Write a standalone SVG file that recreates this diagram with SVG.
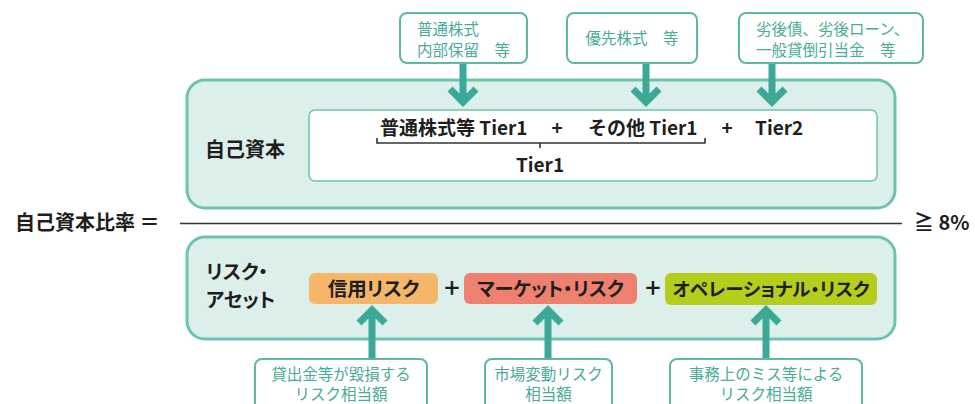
<svg xmlns="http://www.w3.org/2000/svg" width="975" height="404" viewBox="0 0 975 404">
<style>
.panel{fill:#ddefeb;stroke:#6cc3b1;stroke-width:3}
.inner{fill:#ffffff;stroke:#6cc3b1;stroke-width:1.5}
.lbl{fill:#ffffff;stroke:#5db8a5;stroke-width:2}
.lt{font-family:"Noto Sans CJK JP","Noto Sans",sans-serif;font-size:15.5px;fill:#4aab96}
.bt{font-family:"Noto Sans CJK JP","Noto Sans",sans-serif;font-weight:bold;fill:#1e1e1e}
.pt{font-feature-settings:"palt"}
.arr{fill:none;stroke:#3aa997;stroke-width:7;stroke-linejoin:miter;stroke-linecap:butt}
.brk{fill:none;stroke:#333333;stroke-width:1.6}
.plus{font-family:"Noto Sans CJK JP","Noto Sans",sans-serif;font-size:27px;fill:#1e1e1e;font-weight:500}
</style>
<rect width="975" height="404" fill="#ffffff"/>

<g id="capital">
  <rect class="panel" x="187" y="80" width="708" height="128" rx="18"/>
  <text class="bt" x="205" y="157" font-size="20">自己資本</text>
  <rect class="inner" x="309" y="110" width="568" height="71" rx="6"/>
  <text class="bt" x="380" y="135" font-size="19">普通株式等 Tier1</text>
  <text class="bt" x="557" y="135" font-size="19" text-anchor="middle">+</text>
  <text class="bt" x="588" y="135" font-size="19">その他 Tier1</text>
  <text class="bt" x="727" y="135" font-size="19" text-anchor="middle">+</text>
  <text class="bt" x="755" y="135" font-size="19">Tier2</text>
  <path class="brk" d="M377,138 V143 H705 V138 M540,143 V148"/>
  <text class="bt" x="540" y="172" font-size="19" text-anchor="middle">Tier1</text>
</g>

<g id="ratio">
  <text class="bt" x="15" y="230" font-size="20">自己資本比率 ＝</text>
  <line x1="180" y1="223.5" x2="902" y2="223.5" stroke="#333333" stroke-width="1.6"/>
  <text class="bt" x="914" y="230" font-size="20">≧ 8%</text>
</g>

<g id="risk">
  <rect class="panel" x="187" y="237" width="708" height="102" rx="18"/>
  <text class="bt pt" x="206" y="279" font-size="19.5">リスク・</text>
  <text class="bt pt" x="206" y="307" font-size="19.5">アセット</text>
</g>

<g id="credit">
  <rect x="309" y="273" width="129" height="31" rx="6" fill="#f6b66a"/>
  <text class="bt pt" x="373.5" y="295.5" font-size="19.5" text-anchor="middle">信用リスク</text>
</g>
<text class="plus" x="452" y="298" text-anchor="middle">+</text>
<g id="market">
  <rect x="464" y="273" width="173" height="31" rx="6" fill="#ee8070"/>
  <text class="bt pt" x="550.5" y="295.5" font-size="19" text-anchor="middle">マーケット・リスク</text>
</g>
<text class="plus" x="653" y="298" text-anchor="middle">+</text>
<g id="operational">
  <rect x="665" y="273" width="212" height="32" rx="6" fill="#b6cd1c"/>
  <text class="bt pt" x="771" y="295.5" font-size="18.5" text-anchor="middle">オペレーショナル・リスク</text>
</g>

<g id="top1">
  <rect class="lbl" x="400" y="13" width="127" height="50" rx="7"/>
  <text class="lt" x="417" y="35">普通株式</text>
  <text class="lt" x="417" y="56">内部保留　等</text>
</g>
<g id="top2">
  <rect class="lbl" x="567" y="13" width="130" height="50" rx="7"/>
  <text class="lt" x="632" y="44" text-anchor="middle">優先株式　等</text>
</g>
<g id="top3">
  <rect class="lbl" x="739" y="13" width="184" height="50" rx="7"/>
  <text class="lt" x="756" y="35">劣後債、劣後ローン、</text>
  <text class="lt" x="756" y="56">一般貸倒引当金　等</text>
</g>

<g id="bot1">
  <rect class="lbl" x="255" y="359" width="172" height="56" rx="7"/>
  <text class="lt" x="341" y="380" text-anchor="middle">貸出金等が毀損する</text>
  <text class="lt" x="341" y="400" text-anchor="middle">リスク相当額</text>
</g>
<g id="bot2">
  <rect class="lbl" x="485" y="359" width="127" height="56" rx="7"/>
  <text class="lt" x="548.5" y="380" text-anchor="middle">市場変動リスク</text>
  <text class="lt" x="548.5" y="400" text-anchor="middle">相当額</text>
</g>
<g id="bot3">
  <rect class="lbl" x="670" y="359" width="192" height="56" rx="7"/>
  <text class="lt" x="766" y="380" text-anchor="middle">事務上のミス等による</text>
  <text class="lt" x="766" y="400" text-anchor="middle">リスク相当額</text>
</g>

<g id="connectors">
  <path class="arr" d="M463,64 V102 M450,89 L463,102 L476,89"/>
  <path class="arr" d="M646,64 V102 M633,89 L646,102 L659,89"/>
  <path class="arr" d="M772,64 V102 M759,89 L772,102 L785,89"/>
  <path class="arr" d="M372,358 V310 M359,323 L372,310 L385,323"/>
  <path class="arr" d="M548,358 V310 M535,323 L548,310 L561,323"/>
  <path class="arr" d="M766,358 V310 M753,323 L766,310 L779,323"/>
</g>
</svg>
